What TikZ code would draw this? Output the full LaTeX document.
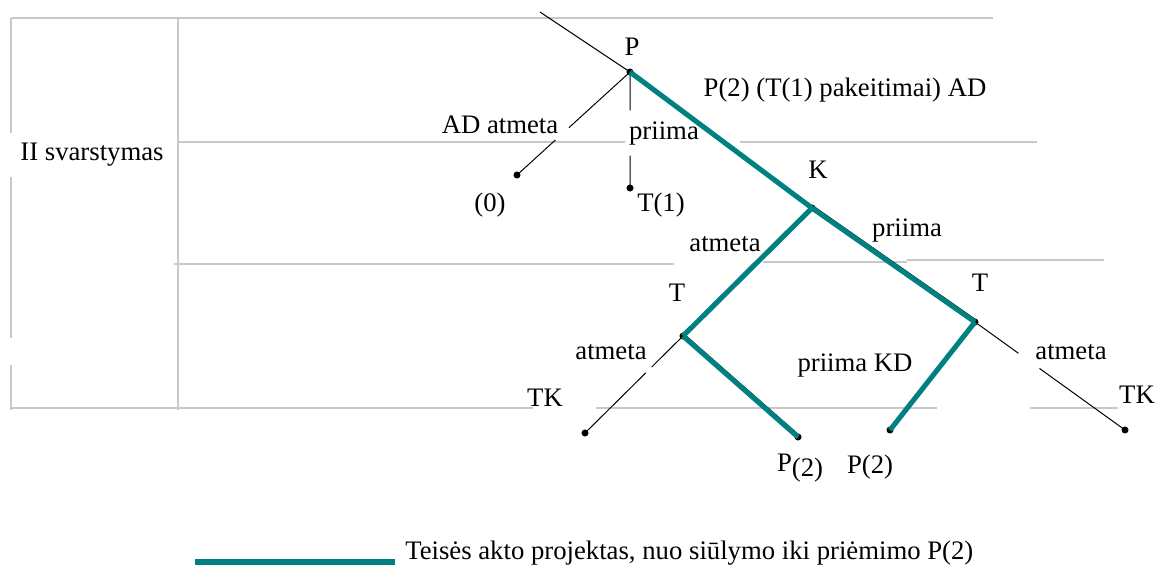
\documentclass[tikz,border=0pt]{standalone}
\usepackage{fontspec}
\setmainfont{Liberation Serif}
\usetikzlibrary{calc}
\definecolor{pathteal}{RGB}{0,128,128}
\definecolor{gridgray}{RGB}{200,200,200}
\tikzset{
	gridline/.style={gridgray, line width=1.7pt},
	branch/.style={black, line width=0.7pt},
	adopted/.style={pathteal, line width=3.6pt},
	lbl/.style={inner sep=0pt},
	dot/.style={circle, fill=black, inner sep=0pt, minimum size=5pt}
}
\begin{document}
\begin{tikzpicture}[x=0.025cm, y=-0.025cm, font=\fontsize{19}{22}\selectfont]
			\useasboundingbox (0,0) rectangle (1162,572);
			\draw [gridline] (11,18) -- (993,18);
			\draw [gridline] (178,142) -- (625,142);
			\draw [gridline] (740,142) -- (1037,142);
			\draw [gridline] (174,264) -- (674,264);
			\draw [gridline] (763,262) -- (907,262);
			\draw [gridline] (907,260) -- (1104,260);
			\draw [gridline] (11,408) -- (533,408);
			\draw [gridline] (596,408) -- (937,408);
			\draw [gridline] (1030,408) -- (1118,408);
			\draw [gridline] (11,18) -- (11,133);
			\draw [gridline] (11,177) -- (11,338);
			\draw [gridline] (11,365) -- (11,410);
			\draw [gridline] (178,18) -- (178,410);
			\coordinate (start) at (540,12);
			\node [dot] (P) at (630,72) {};
			\node [dot] (K) at (812,208) {};
			\node [dot] (TL) at (683,336) {};
			\node [dot] (TR) at (975,322) {};
			\node [dot] (O) at (517,175) {};
			\node [dot] (T1) at (630,188) {};
			\node [dot] (TKL) at (585,433) {};
			\node [dot] (PL) at (798,437) {};
			\node [dot] (PR) at (890,430) {};
			\node [dot] (TKR) at (1125,430) {};
			\draw [branch] (start) -- (P.center);
			\draw [branch] (P.center) -- ($(P.center)!0.54!(O.center)$);
			\draw [branch] ($(P.center)!0.66!(O.center)$) -- (O.center);
			\draw [branch] (P.center) -- ($(P.center)!0.33!(T1.center)$);
			\draw [branch] ($(P.center)!0.72!(T1.center)$) -- (T1.center);
			\draw [branch] (TL.center) -- ($(TL.center)!0.32!(TKL.center)$);
			\draw [branch] ($(TL.center)!0.38!(TKL.center)$) -- (TKL.center);
			\draw [branch] (TR.center) -- ($(TR.center)!0.29!(TKR.center)$);
			\draw [branch] ($(TR.center)!0.43!(TKR.center)$) -- (TKR.center);
			\draw [branch] ([yshift=2pt]K.center) -- ([yshift=2pt]TR.center);
			\draw [branch] ([yshift=2pt]TL.center) -- ([yshift=2pt]PL.center);
			\draw [adopted] (P.center) -- (K.center);
			\draw [adopted] (K.center) -- (TL.center);
			\draw [adopted] (K.center) -- (TR.center);
			\draw [adopted] (TL.center) -- (PL.center);
			\draw [adopted] (TR.center) -- (PR.center);
			\node [lbl] (svarst) at (92,155) {II svarstymas};
			\node [lbl] (Plbl) at (632,47) {P};
			\node [lbl] (ADlbl) at (845,90) {P(2) (T(1) pakeitimai) AD};
			\node [lbl] (ADatm) at (500,125) {AD atmeta};
			\node [lbl] (Ppri) at (664,133) {priima};
			\node [lbl] (Olbl) at (490,205) {(0)};
			\node [lbl] (T1lbl) at (661,205) {T(1)};
			\node [lbl] (Klbl) at (818,170) {K};
			\node [lbl] (Katm) at (725,244) {atmeta};
			\node [lbl] (Kpri) at (907,230) {priima};
			\node [lbl] (TLlbl) at (677,293) {T};
			\node [lbl] (TRlbl) at (980,283) {T};
			\node [lbl] (TLatm) at (611,352) {atmeta};
			\node [lbl] (TKLlbl) at (545,398) {TK};
			\node [lbl] (KDlbl) at (855,365) {priima KD};
			\node [lbl] (TRatm) at (1071,352) {atmeta};
			\node [lbl] (TKRlbl) at (1137,395) {TK};
			\node [lbl] (PLlbl) at (800,468) {P\raisebox{-0.45ex}{(2)}};
			\node [lbl] (PRlbl) at (870,467) {P(2)};
			\coordinate (legA) at (195,562);
			\coordinate (legB) at (395,562);
			\draw [adopted, line width=4.2pt] (legA) -- (legB);
			\node [lbl, anchor=west] (legend) at (405,553) {Teisės akto projektas, nuo siūlymo iki priėmimo P(2)};
		\end{tikzpicture}
\end{document}
